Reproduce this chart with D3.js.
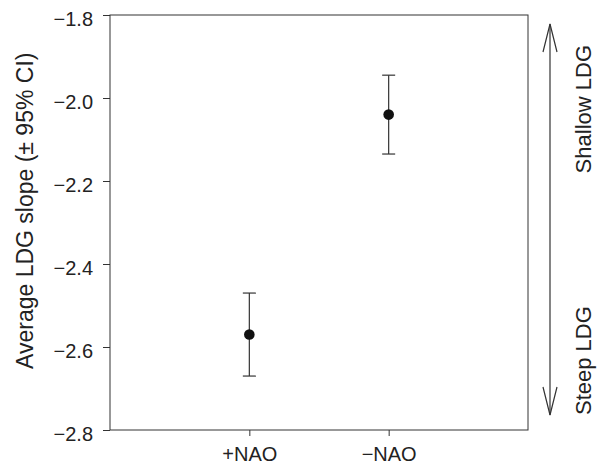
<!DOCTYPE html>
<html>
<head>
<meta charset="utf-8">
<script src="https://cdn.jsdelivr.net/npm/d3@7"></script>
<style>
  html, body { margin: 0; padding: 0; background: #fff; }
  svg { display: block; }
  text { font-family: "Liberation Sans", Arial, Helvetica, sans-serif; fill: #222; }
</style>
</head>
<body>
<svg id="chart" width="600" height="464"></svg>
<script>
// ---- data ----
const categories = ["+NAO", "\u2212NAO"];
const meanSlope = [-2.57, -2.04];
const upperCI = [-2.47, -1.945];
const lowerCI = [-2.67, -2.135];
const yTicks = [-1.8, -2.0, -2.2, -2.4, -2.6, -2.8];
const yTitle = "Average LDG slope (\u00b1 95% CI)";
const sideLabels = ["Shallow LDG", "Steep LDG"];

(function () {
// ---- layout ----
const svg = d3.select("#chart");
const pLeft = 110, pRight = 528, pTop = 15, pBottom = 430;
const fontSize = 20;
const lineColor = "#333";

const x = d3.scalePoint().domain(categories).range([pLeft, pRight]).padding(1);
const y = d3.scaleLinear().domain([-2.8, -1.8]).range([pBottom, pTop]);

// frame
svg.append("rect")
  .attr("x", pLeft).attr("y", pTop)
  .attr("width", pRight - pLeft).attr("height", pBottom - pTop)
  .attr("fill", "none").attr("stroke", lineColor).attr("stroke-width", 1);

// y axis
const yAxis = svg.append("g")
  .attr("transform", `translate(${pLeft},0)`)
  .call(d3.axisLeft(y).tickValues(yTicks).tickFormat(d3.format(".1f")).tickSize(7).tickPadding(10));
yAxis.select(".domain").remove();
yAxis.selectAll("line").attr("stroke", lineColor);
yAxis.selectAll("text").attr("font-size", fontSize).attr("fill", "#222")
  .attr("font-family", "Liberation Sans, Arial, sans-serif").attr("dy", "0.5em");

// x axis
const xAxis = svg.append("g")
  .attr("transform", `translate(0,${pBottom})`)
  .call(d3.axisBottom(x).tickSize(6).tickPadding(11));
xAxis.select(".domain").remove();
xAxis.selectAll("line").attr("stroke", lineColor);
xAxis.selectAll("text").attr("font-size", fontSize).attr("fill", "#222")
  .attr("font-family", "Liberation Sans, Arial, sans-serif");

// y title
svg.append("text")
  .attr("transform", `translate(33,369) rotate(-90)`)
  .attr("text-anchor", "start")
  .attr("font-size", 23)
  .text(yTitle);

// error bars
const capHalf = 6.5;
const g = svg.append("g");
categories.forEach((c, i) => {
  const cx = x(c);
  g.append("line").attr("x1", cx).attr("x2", cx)
    .attr("y1", y(upperCI[i])).attr("y2", y(lowerCI[i]))
    .attr("stroke", lineColor).attr("stroke-width", 1.2);
  [upperCI[i], lowerCI[i]].forEach(v => {
    g.append("line").attr("x1", cx - capHalf).attr("x2", cx + capHalf)
      .attr("y1", y(v)).attr("y2", y(v))
      .attr("stroke", lineColor).attr("stroke-width", 1.2);
  });
  g.append("circle").attr("cx", cx).attr("cy", y(meanSlope[i])).attr("r", 5.3)
    .attr("fill", "#111");
});

// double arrow on the right
const ax = 550, aTop = 24, aBot = 415, headLen = 28, headHalf = 7;
svg.append("line").attr("x1", ax).attr("x2", ax).attr("y1", aTop).attr("y2", aBot)
  .attr("stroke", lineColor).attr("stroke-width", 1.2);
svg.append("path")
  .attr("d", `M${ax - headHalf},${aTop + headLen} L${ax},${aTop} L${ax + headHalf},${aTop + headLen}`)
  .attr("fill", "none").attr("stroke", lineColor).attr("stroke-width", 1.2);
svg.append("path")
  .attr("d", `M${ax - headHalf},${aBot - headLen} L${ax},${aBot} L${ax + headHalf},${aBot - headLen}`)
  .attr("fill", "none").attr("stroke", lineColor).attr("stroke-width", 1.2);

// side labels
svg.append("text")
  .attr("transform", `translate(591,45) rotate(-90)`)
  .attr("text-anchor", "end")
  .attr("font-size", 22)
  .text(sideLabels[0]);
svg.append("text")
  .attr("transform", `translate(591,415) rotate(-90)`)
  .attr("text-anchor", "start")
  .attr("font-size", 22)
  .text(sideLabels[1]);
})();
</script>
</body>
</html>
